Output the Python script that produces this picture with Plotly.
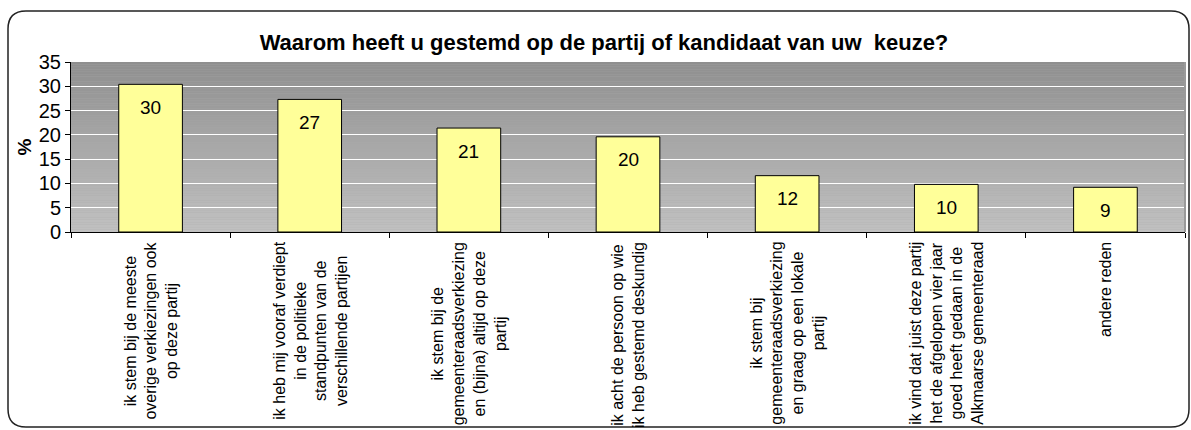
import plotly.graph_objects as go

# ---- data ----
categories = [
    "ik stem bij de meeste<br>overige verkiezingen ook<br>op deze partij",
    "ik heb mij vooraf verdiept<br>in de politieke<br>standpunten van de<br>verschillende partijen",
    "ik stem bij de<br>gemeenteraadsverkiezing<br>en (bijna) altijd op deze<br>partij",
    "ik acht de persoon op wie<br>ik heb gestemd deskundig",
    "ik stem bij<br>gemeenteraadsverkiezing<br>en graag op een lokale<br>partij",
    "ik vind dat juist deze partij<br>het de afgelopen vier jaar<br>goed heeft gedaan in de<br>Alkmaarse gemeenteraad",
    "andere reden",
]
values = [30.4, 27.3, 21.4, 19.6, 11.6, 9.8, 9.2]
value_labels = ["30", "27", "21", "20", "12", "10", "9"]
y_ticks = [0, 5, 10, 15, 20, 25, 30, 35]

title_text = "<b>Waarom heeft u gestemd op de partij of kandidaat van uw  keuze?</b>"

# ---- layout geometry (pixels) ----
W, H = 1191, 430
L, R, T, B = 71, 1185, 62, 232
FONT = "Arial, Liberation Sans, sans-serif"

def px_x(px):
    return (px - L) / (R - L)

def px_y(py):
    return (B - py) / (B - T)

fig = go.Figure()
fig.add_trace(go.Bar(
    x=categories, y=values,
    marker=dict(color="#FFFF99", line=dict(color="black", width=1)),
    hoverinfo="skip",
))

shapes = []
# gradient background bands
n = 70
top_c, bot_c = 0x8F, 0xC1
for i in range(n):
    y0 = 35 * i / n
    y1 = 35 * (i + 1) / n
    f = (i + 0.5) / n
    c = int(round(bot_c + (top_c - bot_c) * f))
    shapes.append(dict(type="rect", xref="paper", yref="y", x0=0, x1=1, y0=y0, y1=y1,
                       fillcolor=f"rgb({c},{c},{c})", line=dict(width=0), layer="below"))

# rounded outer border
x0, x1 = px_x(8), px_x(1189)
y0, y1 = px_y(427), px_y(11)
dx, dy = 18 / (R - L), 18 / (B - T)
path = (f"M {x0+dx},{y1} L {x1-dx},{y1} Q {x1},{y1} {x1},{y1-dy} "
        f"L {x1},{y0+dy} Q {x1},{y0} {x1-dx},{y0} L {x0+dx},{y0} "
        f"Q {x0},{y0} {x0},{y0+dy} L {x0},{y1-dy} Q {x0},{y1} {x0+dx},{y1} Z")
shapes.append(dict(type="path", xref="paper", yref="paper", path=path,
                   line=dict(color="#222222", width=1.5), layer="above"))
# right plot edge line
shapes.append(dict(type="line", xref="paper", yref="paper", x0=1, x1=1, y0=0, y1=1,
                   line=dict(color="#9a9a9a", width=2), layer="above"))

annotations = []
for cat, v, lab in zip(categories, values, value_labels):
    annotations.append(dict(x=cat, y=v, xref="x", yref="y", text=lab, showarrow=False,
                            yanchor="middle", xanchor="center", yshift=-23,
                            font=dict(family=FONT, size=19, color="black")))
    annotations.append(dict(x=cat, y=0, xref="x", yref="paper", text=cat, showarrow=False,
                            textangle=-90, yanchor="top", xanchor="center", yshift=-8,
                            align="center", font=dict(family=FONT, size=16, color="black")))

fig.update_layout(
    width=W, height=H,
    margin=dict(l=L, r=W - R, t=T, b=H - B),
    paper_bgcolor="white", plot_bgcolor="#aaaaaa",
    bargap=0.6, showlegend=False,
    title=dict(text=title_text, x=604 / W, xref="container", xanchor="center",
               y=1 - 42 / H, yref="container", yanchor="middle",
               font=dict(family=FONT, size=22, color="black")),
    shapes=shapes, annotations=annotations,
    font=dict(family=FONT, color="black"),
)
fig.update_xaxes(
    showticklabels=False, ticks="outside", tickson="boundaries", ticklen=5,
    tickcolor="black", showline=True, linecolor="black", linewidth=1,
    showgrid=False, zeroline=False,
)
fig.update_yaxes(
    range=[0, 35], tickvals=y_ticks, ticks="outside", ticklen=5, tickcolor="black",
    showline=True, linecolor="black", linewidth=1,
    showgrid=True, gridcolor="white", gridwidth=1, zeroline=False,
    tickfont=dict(family=FONT, size=20, color="black"),
    title=dict(text="<b>%</b>", font=dict(family=FONT, size=19, color="black"), standoff=2),
)

fig.write_html(
    "out.html",
    config={"displayModeBar": False},
    post_script="document.body.style.margin='0';document.body.style.overflow='hidden';",
)
